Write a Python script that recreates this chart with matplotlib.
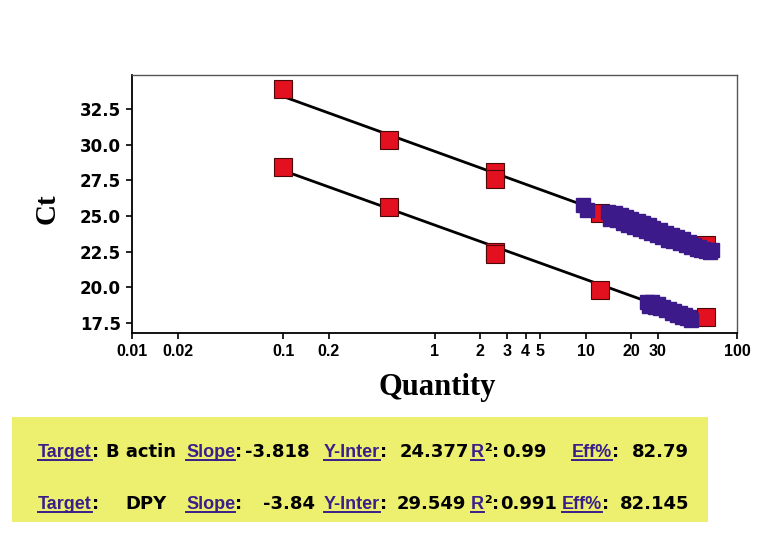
import matplotlib
matplotlib.use('Agg')
import matplotlib.pyplot as plt
import numpy as np
from matplotlib.lines import Line2D
from matplotlib.patches import Rectangle

# ---- data ----
targets = ['B actin', 'DPY']
slopes = [-3.818, -3.84]
intercepts = [24.377, 29.549]
r_squared = [0.99, 0.991]
efficiency = [82.79, 82.145]

# standards (red squares)
std_qty = [0.1, 0.5, 2.5, 2.5, 12.5, 62.5]
std_ct_dpy = [33.95, 30.33, 28.1, 27.6, 25.2, 23.0]
std_ct_bactin = [28.44, 25.63, 22.5, 22.35, 19.85, 17.9]

# unknowns (purple squares)
unk_qty_dpy = [9.6, 10.2, 14.0, 14.5, 15.5, 16, 17, 17.5, 18.5, 19, 20, 21,
               22, 23, 24, 25, 26, 27, 28, 29.5, 31, 32, 34, 35, 37, 38,
               40, 42, 44, 46, 48, 50, 52, 54, 56, 58, 60, 62, 64, 66, 68]
unk_ct_dpy = [25.75, 25.45, 25.3, 24.8, 25.2, 24.7, 25.1, 24.55, 24.95, 24.4,
              24.8, 24.25, 24.65, 24.1, 24.5, 23.95, 24.35, 23.8, 24.2, 23.65,
              24.0, 23.5, 23.85, 23.35, 23.7, 23.25, 23.55, 23.1, 23.4, 22.95,
              23.2, 22.8, 23.0, 22.7, 22.85, 22.6, 22.7, 22.55, 22.65, 22.5, 22.6]
unk_qty_bactin = [25.5, 26, 27.5, 28.5, 30, 31, 32.5, 34, 35.5, 37, 38.5, 40,
                  42, 43.5, 45, 47, 48.5, 50]
unk_ct_bactin = [19.0, 18.72, 18.95, 18.62, 18.8, 18.52, 18.65, 18.38, 18.5,
                 18.22, 18.35, 18.08, 18.2, 17.95, 18.05, 17.82, 17.9, 17.72]

x_ticks = [0.01, 0.02, 0.1, 0.2, 1, 2, 3, 4, 5, 10, 20, 30, 100]
x_tick_labels = ['0.01', '0.02', '0.1', '0.2', '1', '2', '3', '4', '5',
                 '10', '20', '30', '100']
y_ticks = [17.5, 20.0, 22.5, 25.0, 27.5, 30.0, 32.5]

RED = '#e3101f'
PURPLE = '#3c1a8a'
LINK = '#3a1f8a'
W, H = 770, 533

fig = plt.figure(figsize=(W / 100, H / 100), dpi=100)
ax = fig.add_axes([132 / W, 1 - 333 / H, (737 - 132) / W, (333 - 75) / H])

# fitted standard curves
for slope, icpt in zip(slopes, intercepts):
    q = np.array([min(std_qty), max(std_qty)])
    ax.plot(q, icpt + slope * np.log10(q), color='black', lw=2, zorder=2)

ax.plot(std_qty, std_ct_dpy, 's', ms=12.5, mfc=RED, mec='#4a0808', mew=0.8, zorder=3)
ax.plot(std_qty, std_ct_bactin, 's', ms=12.5, mfc=RED, mec='#4a0808', mew=0.8, zorder=3)
ax.plot(unk_qty_dpy, unk_ct_dpy, 's', ms=10.5, mfc=PURPLE, mec=PURPLE, zorder=4)
ax.plot(unk_qty_bactin, unk_ct_bactin, 's', ms=10.5, mfc=PURPLE, mec=PURPLE, zorder=4)

ax.set_xscale('log')
ax.set_xlim(0.01, 100)
ax.set_ylim(16.8, 34.9)
ax.set_xticks(x_ticks)
ax.set_xticklabels(x_tick_labels, family=['Liberation Sans Narrow', 'Liberation Sans'],
                   fontweight='bold', fontsize=11.5)
ax.xaxis.set_minor_locator(matplotlib.ticker.NullLocator())
ax.set_yticks(y_ticks)
ax.set_yticklabels([f'{v:.1f}' for v in y_ticks], family='DejaVu Sans',
                   fontweight='bold', fontsize=12)
ax.tick_params(direction='out', length=4, width=1.2, pad=4)
for side in ['left', 'bottom']:
    ax.spines[side].set_linewidth(1.3)
for side in ['top', 'right']:
    ax.spines[side].set_linewidth(1.0)
    ax.spines[side].set_color('#555555')

fig.text(47 / W, 1 - 209 / H, 'Ct', rotation=90, ha='center', va='center',
         family='Liberation Serif', fontweight='bold', fontsize=21)
fig.text(437 / W, 1 - 387 / H, 'Quantity', ha='center', va='center',
         family='Liberation Serif', fontweight='bold', fontsize=22)

# ---- yellow summary box ----
fig.patches.append(Rectangle((12 / W, 1 - 522 / H), (708 - 12) / W, (522 - 417) / H,
                             transform=fig.transFigure, facecolor='#edf06e',
                             edgecolor='none', zorder=0))

renderer = fig.canvas.get_renderer()


def put(x, y, s, link=False, size=13):
    fam = 'Liberation Sans' if link else 'DejaVu Sans'
    t = fig.text(x / W, 1 - y / H, s, ha='left', va='baseline', family=fam,
                 fontweight='bold', fontsize=size, color=LINK if link else 'black')
    bb = t.get_window_extent(renderer)
    if link:
        fig.add_artist(Line2D([bb.x0 / W, bb.x1 / W], [(H - y - 2.5) / H] * 2,
                              transform=fig.transFigure, color=LINK, lw=1.4))
    return bb.x1


baselines = [457, 509]
name_x = [106, 125]
slope_x = [245, 263]
icpt_x = [400, 397]
r2_x = [502, 500]
eff_link_x = [572, 562]
eff_x = [632, 620]
for i in range(2):
    y = baselines[i]
    xe = put(38, y, 'Target', link=True)
    put(xe, y, ':')
    put(name_x[i], y, targets[i])
    xe = put(186, y, 'Slope', link=True)
    put(xe, y, ':')
    put(slope_x[i], y, f'{slopes[i]:g}')
    xe = put(324, y, 'Y-Inter', link=True)
    put(xe, y, ':')
    put(icpt_x[i], y, f'{intercepts[i]:g}')
    xe = put(471, y, 'R', link=True)
    xe = put(xe, y - 6, '2', link=False, size=8)
    put(xe, y, ':')
    put(r2_x[i], y, f'{r_squared[i]:g}')
    xe = put(eff_link_x[i], y, 'Eff%', link=True)
    put(xe, y, ':')
    put(eff_x[i], y, f'{efficiency[i]:g}')

fig.savefig('out.png', dpi=100)
